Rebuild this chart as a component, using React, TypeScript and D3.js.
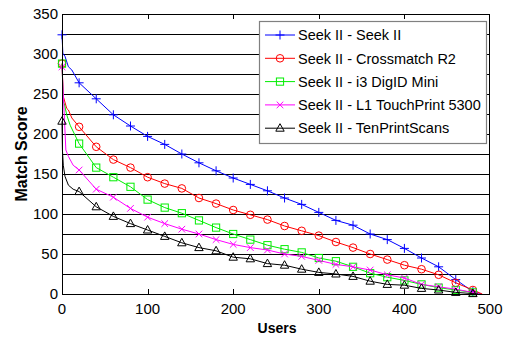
import { useEffect, useRef } from 'react';
import * as d3 from 'd3';

// users where markers sit (every 20 users)
const markerUsers = [0, 20, 40, 60, 80, 100, 120, 140, 160, 180, 200, 220, 240, 260, 280, 300, 320, 340, 360, 380, 400, 420, 440, 460, 480];

const seekScores = [324, 264, 244, 224, 210, 197, 187, 175, 164, 154, 145, 137, 129, 120, 112, 102, 92, 86, 75, 68, 57, 45, 34, 18, 3];
const seekHeadUsers = [1, 3.5, 7.5, 11.5];
const seekHeadScores = [301, 297, 284, 280];

const crossScores = [288, 209, 184, 168, 158, 146, 138, 132, 120, 113, 105, 99, 93, 85, 79, 73, 65, 58, 50, 43, 36, 31, 24, 14, 5];
const crossHeadUsers = [1.5, 5.5, 7.5, 11.5];
const crossHeadScores = [247, 232, 230, 220];

const i3Scores = [288, 188, 158, 146, 134, 118, 108, 101, 92, 83, 75, 68, 61, 56, 52, 45, 41, 34, 26, 21, 17, 12, 8, 5, 2];
const i3HeadUsers = [1.5, 2.7, 5.5, 9.5];
const i3HeadScores = [240, 238, 224, 211];

const l1Scores = [284, 155, 131, 121, 107, 96, 88, 81, 75, 68, 62, 58, 55, 50, 47, 42, 37, 34, 30, 24, 20, 12, 9, 6, 2];
const l1HeadUsers = [1.5, 3, 4.5, 7.5, 13];
const l1HeadScores = [250, 215, 180, 172, 161];

const tenScores = [216, 128, 109, 97, 88, 80, 72, 64, 58, 54, 46, 44, 38, 36, 31, 27, 25, 22, 16, 12, 11, 7, 5, 2, 0.5];
const tenHeadUsers = [0.5, 1.5, 3.5, 7.5, 13];
const tenHeadScores = [180, 161, 147, 136, 131];

const seriesNames = [
  'Seek II - Seek II',
  'Seek II - Crossmatch R2',
  'Seek II - i3 DigID Mini',
  'Seek II - L1 TouchPrint 5300',
  'Seek II - TenPrintScans',
];
const seriesColors = ['#0000ff', '#ff0000', '#00ee00', '#ff00ff', '#000000'];
const seriesMarkers = ['plus', 'circle', 'square', 'x', 'triangle'];
const seriesEnd = [490, 491, 488, 488, 486];

const xTicks = [0, 100, 200, 300, 400, 500];
const yTicks = [0, 50, 100, 150, 200, 250, 300, 350];
const gridValues = [25, 50, 75, 100, 125, 150, 175, 200, 225, 250, 275, 300, 325];

type Pt = [number, number];

const buildSeries = (scores: number[], headU: number[], headS: number[], end: number): Pt[] => {
  const pts: Pt[] = [[markerUsers[0], scores[0]]];
  headU.forEach((u, i) => pts.push([u, headS[i]]));
  for (let i = 1; i < markerUsers.length; i++) pts.push([markerUsers[i], scores[i]]);
  pts.push([end, 0]);
  return pts;
};

const drawMarker = (g: any, type: string, x: number, y: number, color: string) => {
  if (type === 'plus') {
    g.append('path').attr('d', `M${x - 4.5},${y}H${x + 4.5}M${x},${y - 4.5}V${y + 4.5}`)
      .attr('stroke', color).attr('stroke-width', 1).attr('fill', 'none');
  } else if (type === 'circle') {
    g.append('circle').attr('cx', x).attr('cy', y).attr('r', 3.8)
      .attr('stroke', color).attr('stroke-width', 1).attr('fill', 'none');
  } else if (type === 'square') {
    g.append('rect').attr('x', x - 3.6).attr('y', y - 3.6).attr('width', 7.2).attr('height', 7.2)
      .attr('stroke', color).attr('stroke-width', 1).attr('fill', 'none');
  } else if (type === 'x') {
    g.append('path').attr('d', `M${x - 3.3},${y - 3.3}L${x + 3.3},${y + 3.3}M${x - 3.3},${y + 3.3}L${x + 3.3},${y - 3.3}`)
      .attr('stroke', color).attr('stroke-width', 1).attr('fill', 'none');
  } else {
    g.append('path').attr('d', `M${x},${y - 4.5}L${x + 4.2},${y + 3}L${x - 4.2},${y + 3}Z`)
      .attr('stroke', color).attr('stroke-width', 1).attr('fill', 'none');
  }
};

const App = () => {
  const svgRef = useRef<SVGSVGElement>(null);

  useEffect(() => {
    if (!svgRef.current) return;
    const width = 509;
    const height = 337;
    const svg = d3.select(svgRef.current);
    svg.selectAll('*').remove();

    const margin = { top: 14, right: 19, bottom: 43, left: 62 };
    const innerWidth = width - margin.left - margin.right;
    const innerHeight = height - margin.top - margin.bottom;

    const x = d3.scaleLinear().domain([0, 500]).range([margin.left, margin.left + innerWidth]);
    const y = d3.scaleLinear().domain([0, 350]).range([margin.top + innerHeight, margin.top]);

    svg.append('rect').attr('width', width).attr('height', height).attr('fill', '#fff');

    const font = '"Liberation Sans", Arial, sans-serif';

    // horizontal grid
    svg.append('g').selectAll('line').data(gridValues).enter().append('line')
      .attr('x1', x(0)).attr('x2', x(500))
      .attr('y1', d => Math.round(y(d)) + 0.5).attr('y2', d => Math.round(y(d)) + 0.5)
      .attr('stroke', '#000').attr('stroke-width', 1);

    // inner ticks on top and bottom
    const tickG = svg.append('g');
    xTicks.slice(1, -1).forEach(t => {
      const px = Math.round(x(t)) + 0.5;
      tickG.append('line').attr('x1', px).attr('x2', px).attr('y1', y(0)).attr('y2', y(0) - 5).attr('stroke', '#000');
      tickG.append('line').attr('x1', px).attr('x2', px).attr('y1', y(350)).attr('y2', y(350) + 5).attr('stroke', '#000');
    });

    // tick labels
    svg.append('g').selectAll('text').data(yTicks).enter().append('text')
      .attr('x', x(0) - 4).attr('y', d => y(d)).attr('dy', '0.36em')
      .attr('text-anchor', 'end').style('font-family', font).style('font-size', '15px')
      .text(d => d);
    svg.append('g').selectAll('text').data(xTicks).enter().append('text')
      .attr('x', d => x(d)).attr('y', y(0) + 20)
      .attr('text-anchor', 'middle').style('font-family', font).style('font-size', '15px')
      .text(d => d);

    // series
    const allSeries = [
      buildSeries(seekScores, seekHeadUsers, seekHeadScores, seriesEnd[0]),
      buildSeries(crossScores, crossHeadUsers, crossHeadScores, seriesEnd[1]),
      buildSeries(i3Scores, i3HeadUsers, i3HeadScores, seriesEnd[2]),
      buildSeries(l1Scores, l1HeadUsers, l1HeadScores, seriesEnd[3]),
      buildSeries(tenScores, tenHeadUsers, tenHeadScores, seriesEnd[4]),
    ];
    const allScores = [seekScores, crossScores, i3Scores, l1Scores, tenScores];

    const line = d3.line<Pt>().x(d => x(d[0])).y(d => y(d[1]));

    allSeries.forEach((pts, i) => {
      const g = svg.append('g');
      g.append('path').attr('d', line(pts) as string)
        .attr('fill', 'none').attr('stroke', seriesColors[i]).attr('stroke-width', 1);
      markerUsers.forEach((u, j) => drawMarker(g, seriesMarkers[i], x(u), y(allScores[i][j]), seriesColors[i]));
    });

    // frame
    svg.append('rect')
      .attr('x', x(0) + 0.5).attr('y', y(350) + 0.5)
      .attr('width', innerWidth - 1).attr('height', innerHeight)
      .attr('fill', 'none').attr('stroke', '#000').attr('stroke-width', 1);

    // legend
    const lg = svg.append('g');
    lg.append('rect').attr('x', 259.5).attr('y', 21.5).attr('width', 227).attr('height', 122)
      .attr('fill', '#fff').attr('stroke', '#808080').attr('stroke-width', 1.2);
    seriesNames.forEach((name, i) => {
      const ly = 35 + i * 23.3;
      lg.append('line').attr('x1', 265).attr('x2', 295).attr('y1', ly).attr('y2', ly)
        .attr('stroke', seriesColors[i]).attr('stroke-width', 1);
      drawMarker(lg, seriesMarkers[i], 280, ly, seriesColors[i]);
      lg.append('text').attr('x', 298).attr('y', ly).attr('dy', '0.36em')
        .style('font-family', font).style('font-size', '14.5px').text(name);
    });

    // axis titles
    svg.append('text').attr('x', (x(0) + x(500)) / 2 + 1).attr('y', 333)
      .attr('text-anchor', 'middle').style('font-family', font).style('font-size', '14px')
      .style('font-weight', 'bold').text('Users');
    svg.append('text')
      .attr('transform', `translate(27,${(y(0) + y(350)) / 2}) rotate(-90)`)
      .attr('text-anchor', 'middle').style('font-family', font).style('font-size', '16px')
      .style('font-weight', 'bold').text('Match Score');
  }, []);

  return (
    <div style={{ position: 'absolute', left: 0, top: 0 }}>
      <svg ref={svgRef} width={509} height={337} style={{ display: 'block' }}></svg>
    </div>
  );
};

export default App;
